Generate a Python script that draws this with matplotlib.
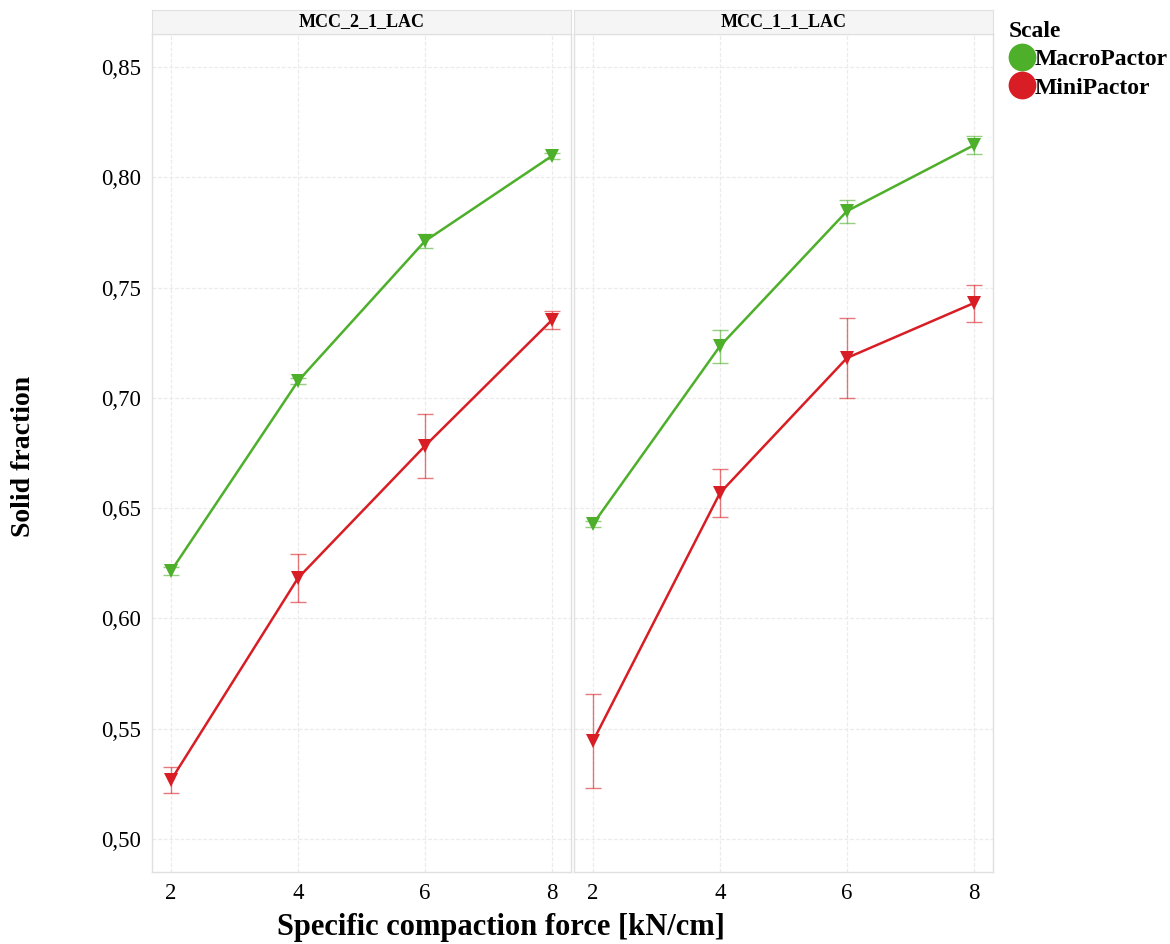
import matplotlib
matplotlib.use("Agg")
import matplotlib.pyplot as plt
from matplotlib.lines import Line2D

plt.rcParams['font.family'] = ['Liberation Serif', 'DejaVu Serif']

# data
force = [2, 4, 6, 8]
panels = ["MCC_2_1_LAC", "MCC_1_1_LAC"]
scales = ["MacroPactor", "MiniPactor"]
colors = {"MacroPactor": "#4DAF2A", "MiniPactor": "#D81E24"}

sf_macro = {"MCC_2_1_LAC": [0.6215, 0.7076, 0.7711, 0.8097],
            "MCC_1_1_LAC": [0.6428, 0.7235, 0.7847, 0.8146]}
err_macro = {"MCC_2_1_LAC": [0.002, 0.0012, 0.003, 0.0012],
             "MCC_1_1_LAC": [0.0012, 0.0075, 0.0052, 0.0042]}
sf_mini = {"MCC_2_1_LAC": [0.5267, 0.6183, 0.6782, 0.7353],
           "MCC_1_1_LAC": [0.5444, 0.6569, 0.7181, 0.743]}
err_mini = {"MCC_2_1_LAC": [0.006, 0.011, 0.0147, 0.004],
            "MCC_1_1_LAC": [0.0213, 0.011, 0.018, 0.0084]}

yticks = [0.50, 0.55, 0.60, 0.65, 0.70, 0.75, 0.80, 0.85]
ytick_labels = ["0,50", "0,55", "0,60", "0,65", "0,70", "0,75", "0,80", "0,85"]

fig = plt.figure(figsize=(11.7, 9.44), dpi=100)
W, H = 1170, 944
lefts = [152, 574]
pw = 419
ptop, pbot = 34, 872
strip_top = 10

for i, p in enumerate(panels):
    ax = fig.add_axes([lefts[i] / W, 1 - pbot / H, pw / W, (pbot - ptop) / H])
    for s, vals, errs in [("MacroPactor", sf_macro[p], err_macro[p]),
                          ("MiniPactor", sf_mini[p], err_mini[p])]:
        c = colors[s]
        ax.errorbar(force, vals, yerr=errs, fmt='none', ecolor=c, alpha=0.6,
                    elinewidth=1, capsize=6, capthick=1, zorder=2)
        ax.plot(force, vals, color=c, lw=1.8, marker='v', ms=10,
                markeredgewidth=0, zorder=3)
    ax.set_xlim(1.70, 8.30)
    ax.set_ylim(0.485, 0.865)
    ax.set_xticks(force)
    ax.set_xticklabels([str(f) for f in force])
    ax.set_yticks(yticks)
    if i == 0:
        ax.set_yticklabels(ytick_labels)
    else:
        ax.set_yticklabels([])
    ax.tick_params(length=0, labelsize=16.5, pad=8)
    ax.grid(True, color='#ebebeb', lw=0.9, ls=(0, (3, 1.5)))
    ax.set_axisbelow(True)
    for sp in ax.spines.values():
        sp.set_color('#e0e0e0')
        sp.set_linewidth(1)
    # facet strip
    sax = fig.add_axes([lefts[i] / W, 1 - ptop / H, pw / W, (ptop - strip_top) / H])
    sax.set_facecolor('#f5f5f5')
    sax.set_xticks([])
    sax.set_yticks([])
    for sp in sax.spines.values():
        sp.set_color('#e0e0e0')
    sax.text(0.5, 0.5, p, ha='center', va='center', fontsize=13,
             fontweight='bold', transform=sax.transAxes)

fig.text(501 / W, 1 - 928 / H, "Specific compaction force [kN/cm]",
         ha='center', va='center', fontsize=22, fontweight='bold')
fig.text(24 / W, 1 - 456 / H, "Solid fraction", ha='center', va='center',
         rotation=90, fontsize=20, fontweight='bold')

handles = [Line2D([], [], ls='none', marker='o', ms=20, color=colors[s],
                  markeredgewidth=0) for s in scales]
leg = fig.legend(handles, scales, loc='upper left',
                 bbox_to_anchor=(992 / W, 1 - 4 / H), frameon=False,
                 title="Scale", handletextpad=0.0, handlelength=1.1,
                 labelspacing=0.3, borderpad=0.2,
                 prop={'size': 17, 'weight': 'bold'})
leg.get_title().set_fontweight('bold')
leg.get_title().set_fontsize(17)
leg._legend_box.align = 'left'

fig.savefig("out.png", dpi=100)
